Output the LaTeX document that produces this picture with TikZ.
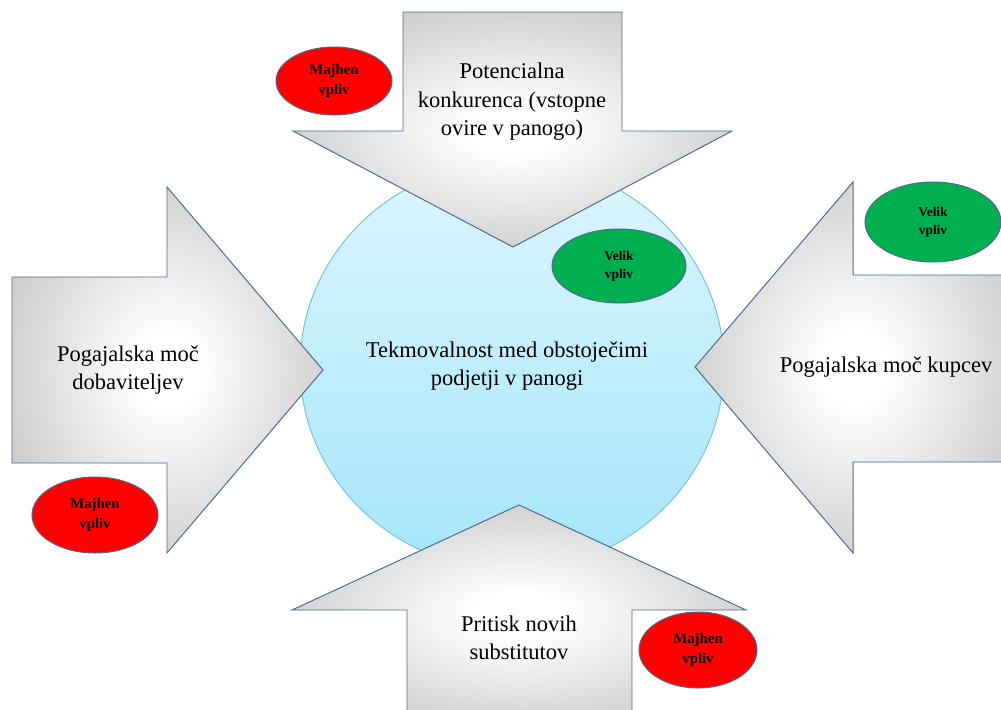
\documentclass[tikz,border=0pt]{standalone}
\usepackage{fontspec}
\setmainfont{Liberation Serif}
\usetikzlibrary{shapes.geometric}
\definecolor{arrowline}{HTML}{4F6A8C}
\definecolor{arrowgray}{HTML}{A8A8A8}
\definecolor{ringline}{HTML}{78C2D6}
\definecolor{ringtop}{HTML}{DDF5FD}
\definecolor{ringbottom}{HTML}{A4E6FA}
\definecolor{lowred}{HTML}{FF0000}
\definecolor{highgreen}{HTML}{00B050}
\pgfdeclareradialshading{forceshade}{\pgfpoint{0bp}{0bp}}{%
  color(0bp)=(white); color(5bp)=(white); color(44bp)=(arrowgray); color(75bp)=(arrowgray!85!black)}
\tikzset{
  force/.style={draw=arrowline, line width=0.7pt, shading=forceshade},
  forcetext/.style={align=center, font=\fontsize{16}{20.3}\selectfont},
  impact/.style={ellipse, draw=arrowline, line width=0.7pt, inner sep=0pt,
    align=center, font=\fontsize{10.5}{14}\selectfont\bfseries},
  low/.style={impact, fill=lowred},
  high/.style={impact, fill=highgreen, font=\fontsize{9.5}{13}\selectfont\bfseries}
}

\begin{document}
\begin{tikzpicture}[x=0.025cm, y=-0.025cm]
\useasboundingbox (0,0) rectangle (1001,710);
\clip (0,0) rectangle (1001,710);

% the rivalry in the middle
\shade [top color=ringtop, bottom color=ringbottom] (512,366) ellipse [x radius=212, y radius=204];
\draw [ringline, line width=0.7pt] (512,366) ellipse [x radius=212, y radius=204];
\node (rivalry) [forcetext] at (507,366) {Tekmovalnost med obstoječimi\\podjetji v panogi};

% the four forces
\path [force] (403,12) -- (622,12) -- (622,131) -- (732,131) -- (513,247) -- (293,131) -- (403,131) -- cycle;
\node (entrants) [forcetext] at (512,102) {Potencialna\\konkurenca (vstopne\\ovire v panogo)};

\path [force] (12,277) -- (167,277) -- (167,187) -- (323,370) -- (167,553) -- (167,463) -- (12,463) -- cycle;
\node (suppliers) [forcetext] at (128,370) {Pogajalska moč\\dobaviteljev};

\path [force] (1015,275) -- (853,275) -- (853,182) -- (695,367) -- (853,553) -- (853,462) -- (1015,462) -- cycle;
\node (buyers) [forcetext, anchor=west] at (775,367) {Pogajalska moč kupcev};

\path [force] (407,725) -- (407,610) -- (292,610) -- (519,505) -- (746,610) -- (632,610) -- (632,725) -- cycle;
\node (substitutes) [forcetext] at (519,638) {Pritisk novih\\substitutov};

% impact of each force
\node (entrantsimpact) [low, minimum width=2.9cm, minimum height=1.7cm] at (334,81) {Majhen\\vpliv};
\node (rivalryimpact) [high, minimum width=3.35cm, minimum height=1.85cm] at (619,266) {Velik\\vpliv};
\node (buyersimpact) [high, minimum width=3.4cm, minimum height=2cm] at (933,222) {Velik\\vpliv};
\node (suppliersimpact) [low, minimum width=3.15cm, minimum height=1.9cm] at (95,515) {Majhen\\vpliv};
\node (substitutesimpact) [low, minimum width=2.95cm, minimum height=1.9cm] at (698,650) {Majhen\\vpliv};

\end{tikzpicture}
\end{document}
